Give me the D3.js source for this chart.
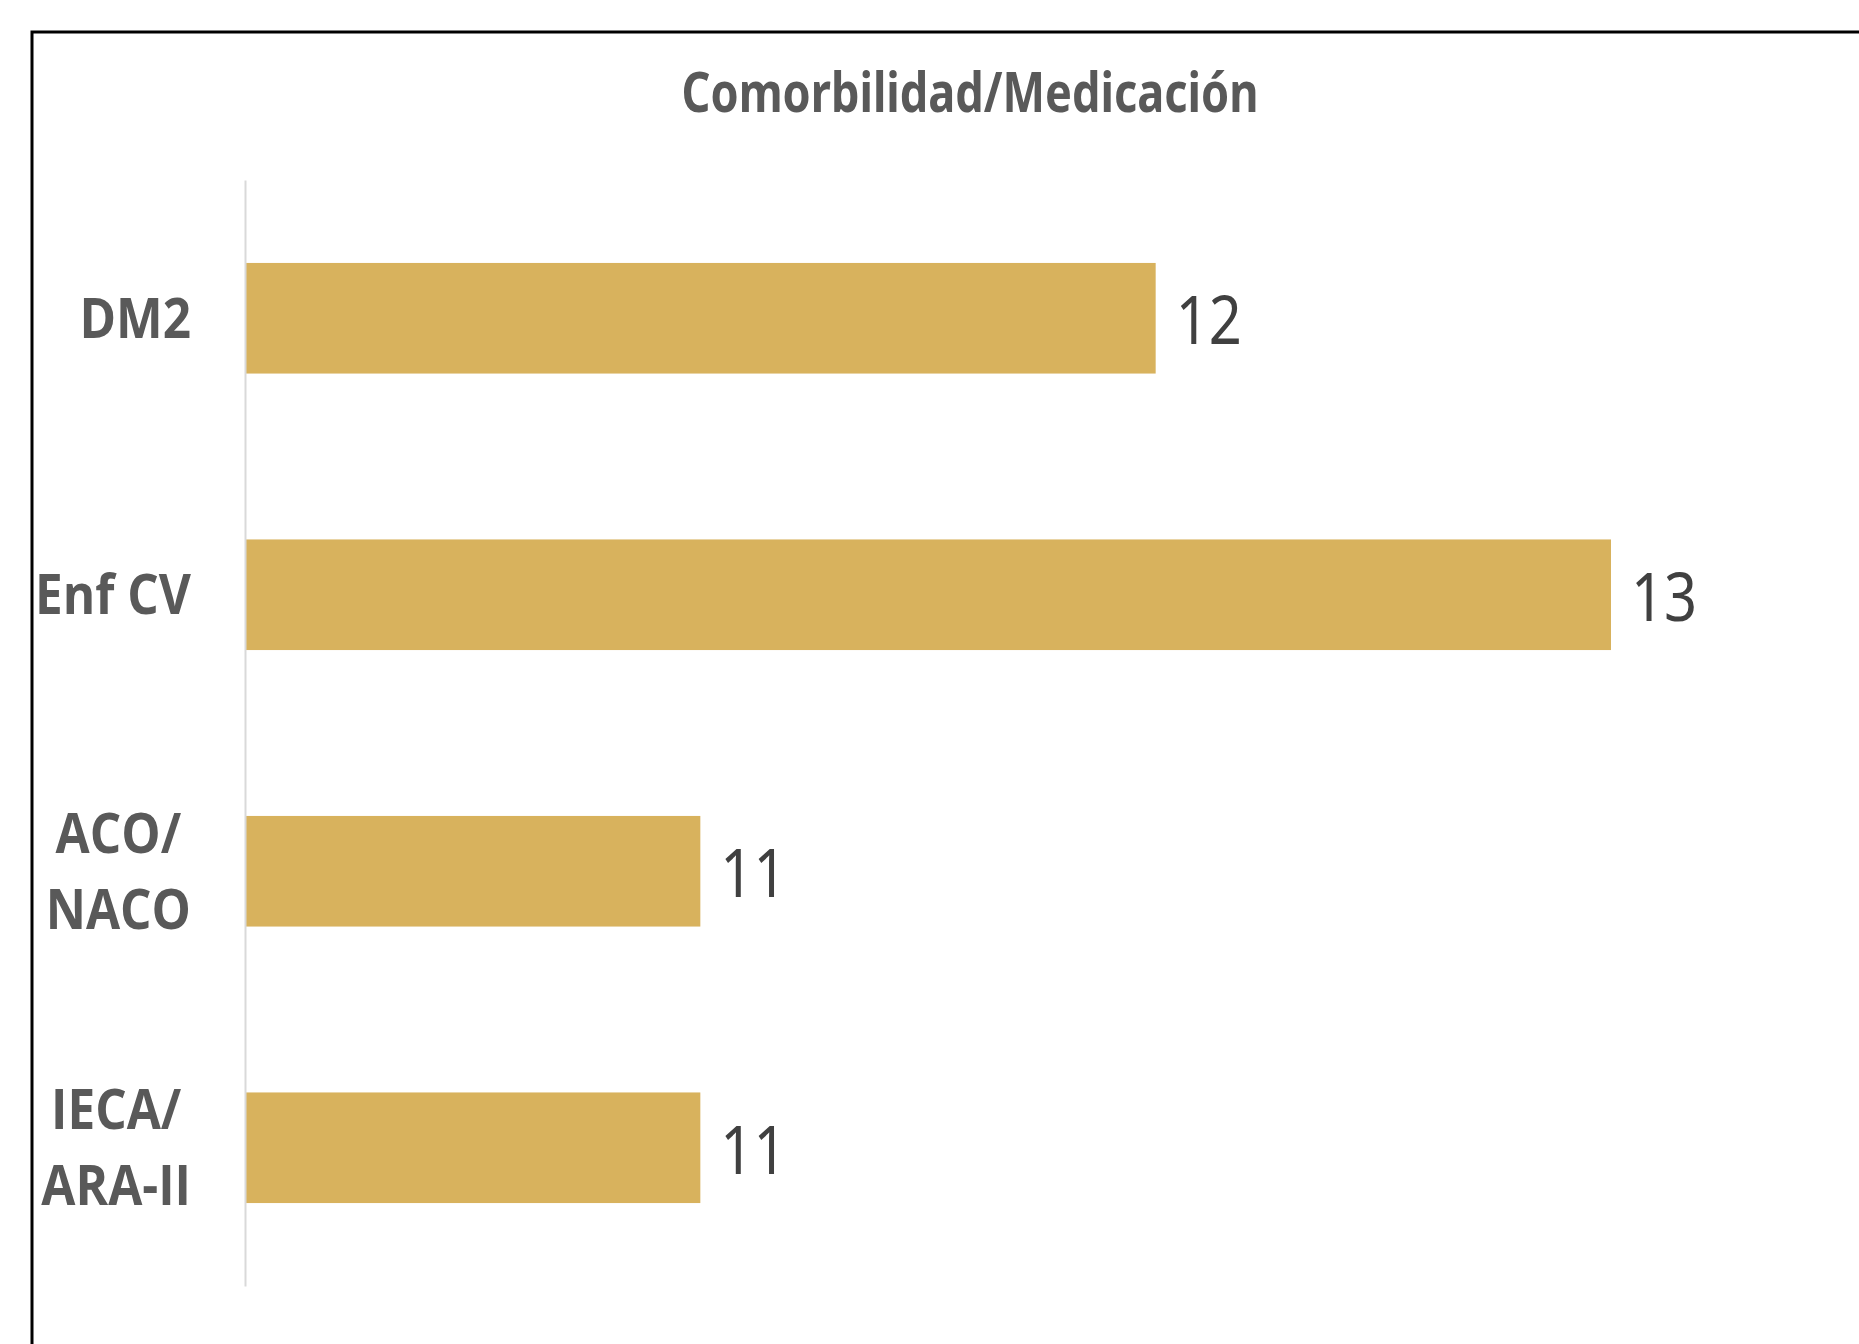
<!DOCTYPE html>
<html>
<head>
<meta charset="utf-8">
<script src="https://cdn.jsdelivr.net/npm/d3@7"></script>
<style>
  html, body { margin: 0; padding: 0; background: #fff; overflow: hidden; }
</style>
</head>
<body>
<div id="chart"></div>
<script>
// categories (lines of each label) and values
const categories = ["DM2", "Enf CV", "ACO/NACO", "IECA/ARA-II"];
const labelLines = [["DM2"], ["Enf CV"], ["ACO/", "NACO"], ["IECA/", "ARA-II"]];
const values = [12, 13, 11, 11];
// value axis starts at 10 in the original chart
const xDomain = [10, 13];
const chartTitle = "Comorbilidad/Medicación";

const width = 1859;
const height = 1344;
const squeeze = 0.82; // the source picture is horizontally squeezed

const svg = d3.select("#chart").append("svg")
    .attr("width", width)
    .attr("height", height);

// outer frame (runs off the right and bottom edges)
svg.append("rect")
    .attr("x", 32)
    .attr("y", 32)
    .attr("width", width + 20)
    .attr("height", height + 20)
    .attr("fill", "none")
    .attr("stroke", "#000")
    .attr("stroke-width", 3);

const xScale = d3.scaleLinear()
    .domain(xDomain)
    .range([245, 1611]);

const yScale = d3.scaleBand()
    .domain(categories)
    .range([180, 1286])
    .paddingInner(0.6)
    .paddingOuter(0.3);

// title
svg.append("text")
    .attr("transform", `translate(970, 112) scale(${squeeze},1)`)
    .attr("text-anchor", "middle")
    .attr("font-family", "Noto Sans")
    .attr("font-weight", "bold")
    .attr("font-size", 55)
    .attr("fill", "#595959")
    .text(chartTitle);

// bars
svg.append("g")
    .attr("fill", "#D8B25D")
    .selectAll("rect")
    .data(values)
    .join("rect")
    .attr("x", xScale(xDomain[0]))
    .attr("y", (d, i) => yScale(categories[i]))
    .attr("width", d => xScale(d) - xScale(xDomain[0]))
    .attr("height", yScale.bandwidth());

// vertical axis line
const yAxis = d3.axisLeft(yScale).tickSize(0).tickFormat("");
svg.append("g")
    .attr("transform", `translate(${xScale(xDomain[0])},0)`)
    .call(yAxis)
    .call(g => g.select(".domain")
        .attr("stroke", "#d9d9d9")
        .attr("stroke-width", 2));

// category labels, right aligned block, lines centered to each other
const labelRight = 191;
const lineGap = 76;
const labelSqueeze = 0.9;
const labels = svg.append("g")
    .attr("font-family", "Open Sans")
    .attr("font-weight", "bold")
    .attr("font-size", 55)
    .attr("fill", "#595959");

categories.forEach((c, i) => {
    const lines = labelLines[i];
    const cy = yScale(c) + yScale.bandwidth() / 2;
    const g = labels.append("g");
    const texts = lines.map((line, j) => g.append("text")
        .attr("text-anchor", "middle")
        .attr("dy", "0.35em")
        .text(line));
    const maxW = d3.max(texts, t => t.node().getComputedTextLength()) * labelSqueeze;
    const cx = labelRight - maxW / 2;
    texts.forEach((t, j) => {
        const y = cy + (j - (lines.length - 1) / 2) * lineGap;
        t.attr("transform", `translate(${cx},${y}) scale(${labelSqueeze},1)`);
    });
});

// value labels
svg.append("g")
    .attr("font-family", "Noto Sans")
    .attr("font-size", 68)
    .attr("fill", "#404040")
    .selectAll("text")
    .data(values)
    .join("text")
    .attr("transform", (d, i) =>
        `translate(${xScale(d) + 20},${yScale(categories[i]) + yScale.bandwidth() / 2}) scale(0.85,1)`)
    .attr("dy", "0.38em")
    .text(d => d);
</script>
</body>
</html>
